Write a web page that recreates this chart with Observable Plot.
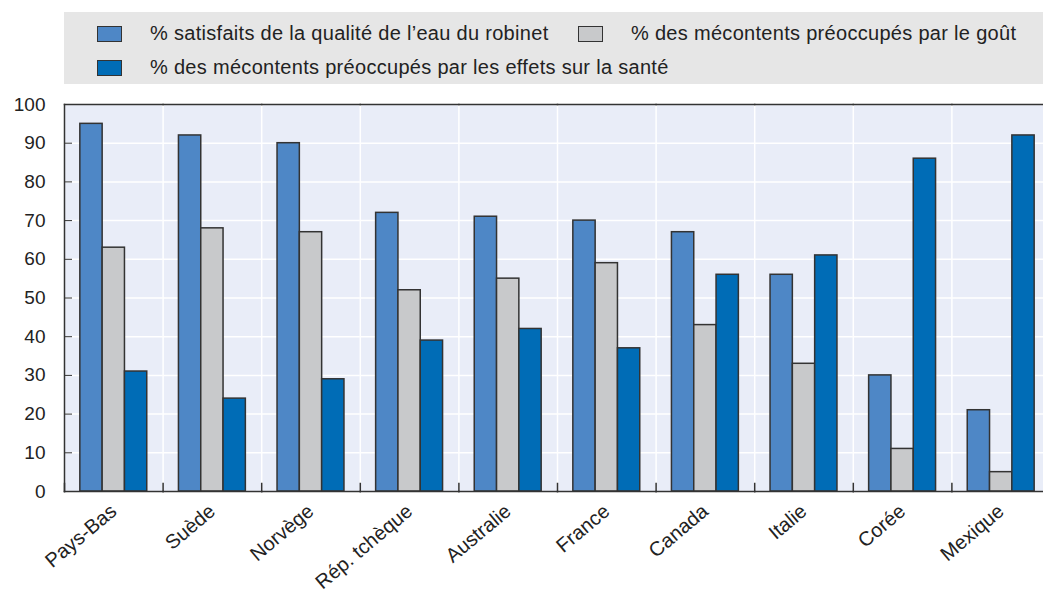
<!DOCTYPE html>
<html>
<head>
<meta charset="utf-8">
<script src="https://cdn.jsdelivr.net/npm/d3@7"></script>
<script src="https://cdn.jsdelivr.net/npm/@observablehq/plot@0.6"></script>
<style>
  html, body { margin: 0; padding: 0; background: #fff; overflow: hidden; width: 1043px; height: 594px; }
  body { font-family: "Liberation Sans", Arial, sans-serif; color: #222; }
  #legend { position: absolute; left: 64px; top: 12px; width: 979px; height: 72px; background: #e6e6e6; }
  .item { position: absolute; display: flex; align-items: center; font-size: 20px; letter-spacing: 0.3px; white-space: nowrap; }
  .sw { width: 23px; height: 14px; border: 1.5px solid #333; margin-right: 28px; }
  #chart { position: absolute; left: 0; top: 90px; }
</style>
</head>
<body>
<div id="legend"></div>
<div id="chart"></div>
<script>
const countries = ["Pays-Bas", "Suède", "Norvège", "Rép. tchèque", "Australie", "France", "Canada", "Italie", "Corée", "Mexique"];
const satisfied = [95, 92, 90, 72, 71, 70, 67, 56, 30, 21];
const taste = [63, 68, 67, 52, 55, 59, 43, 33, 11, 5];
const health = [31, 24, 29, 39, 42, 37, 56, 61, 86, 92];
const seriesNames = [
  "% satisfaits de la qualité de l’eau du robinet",
  "% des mécontents préoccupés par le goût",
  "% des mécontents préoccupés par les effets sur la santé"
];
const seriesColors = ["#4e87c6", "#c8c9cb", "#006cb6"];
const yTicks = [0, 10, 20, 30, 40, 50, 60, 70, 80, 90, 100];

const seriesValues = [satisfied, taste, health];
const rows = [];
countries.forEach((c, i) => {
  seriesNames.forEach((s, j) => rows.push({country: c, series: s, value: seriesValues[j][i]}));
});

// Legend
const legend = document.getElementById("legend");
const legendPos = [[33, 0], [514, 0], [33, 1]];
seriesNames.forEach((s, j) => {
  const it = document.createElement("div");
  it.className = "item";
  it.style.left = legendPos[j][0] + "px";
  it.style.top = (legendPos[j][1] * 34 + 10) + "px";
  it.innerHTML = `<div class="sw" style="background:${seriesColors[j]}"></div><span>${s}</span>`;
  legend.appendChild(it);
});

const font = '"Liberation Sans", Arial, sans-serif';
const chart = Plot.plot({
  width: 1043,
  height: 504,
  marginLeft: 64,
  marginRight: -7,
  marginTop: 14,
  marginBottom: 103,
  style: {fontFamily: font, background: "transparent"},
  fx: {domain: countries, padding: 0, round: false, label: null},
  x: {domain: seriesNames, paddingInner: 0, paddingOuter: 0.71, round: false, axis: null},
  y: {domain: [0, 100], label: null},
  color: {domain: seriesNames, range: seriesColors},
  marks: [
    Plot.frame({fill: "#e9edf8", stroke: null}),
    Plot.ruleY(yTicks, {stroke: "white", strokeWidth: 1.5}),
    Plot.frame({anchor: "left", stroke: "white", strokeWidth: 1.5}),
    Plot.barY(rows, {fx: "country", x: "series", y: "value", fill: "series", stroke: "#333", strokeWidth: 1.5}),
    Plot.frame({anchor: "left", stroke: "#333", strokeWidth: 1.5, insetTop: 379}),
    Plot.frame({anchor: "top", stroke: "#333", strokeWidth: 1.5}),
    Plot.frame({anchor: "bottom", stroke: "#333", strokeWidth: 1.5}),
    Plot.frame({anchor: "left", stroke: "#333", strokeWidth: 1.5, facetAnchor: "left"}),
    Plot.axisY(yTicks.slice(1, -1), {anchor: "right", frameAnchor: "left", facetAnchor: "left", text: null, tickSize: 7, stroke: "#333"}),
    Plot.axisY(yTicks, {anchor: "left", tickSize: 0, tickPadding: 19, fontSize: 19, fill: "#222", label: null}),
    Plot.axisFx({anchor: "bottom", tickSize: 0, tickPadding: 17, tickRotate: -40, fontSize: 20, fill: "#222", label: null})
  ]
});
document.getElementById("chart").appendChild(chart);
</script>
</body>
</html>
